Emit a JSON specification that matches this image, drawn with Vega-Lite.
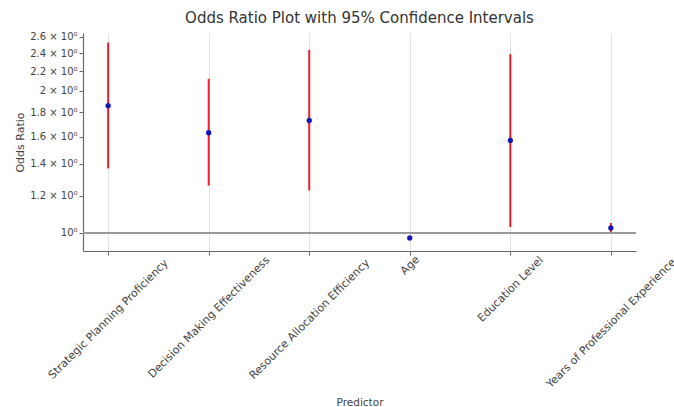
{
  "$schema": "https://vega.github.io/schema/vega-lite/v6.json",
  "width": 553,
  "height": 218,
  "autosize": "none",
  "padding": {"left": 83, "top": 33, "right": 38, "bottom": 156},
  "background": "white",
  "title": {
    "text": "Odds Ratio Plot with 95% Confidence Intervals",
    "fontSize": 15,
    "font": "DejaVu Sans",
    "fontWeight": "normal",
    "color": "#333",
    "anchor": "middle",
    "offset": 6
  },
  "config": {
    "view": {"stroke": null},
    "axis": {
      "labelFont": "DejaVu Sans",
      "titleFont": "DejaVu Sans",
      "labelColor": "#444",
      "titleColor": "#444",
      "titleFontWeight": "normal",
      "domainColor": "#666",
      "tickColor": "#666",
      "domainWidth": 1.2
    }
  },
  "data": {
    "values": [
      {"Predictor": "Strategic Planning Proficiency", "OR": 1.86, "lower": 1.37, "upper": 2.53},
      {"Predictor": "Decision Making Effectiveness", "OR": 1.63, "lower": 1.26, "upper": 2.12},
      {"Predictor": "Resource Allocation Efficiency", "OR": 1.73, "lower": 1.23, "upper": 2.44},
      {"Predictor": "Age", "OR": 0.976, "lower": 0.971, "upper": 0.982},
      {"Predictor": "Education Level", "OR": 1.57, "lower": 1.03, "upper": 2.39},
      {"Predictor": "Years of Professional Experience", "OR": 1.025, "lower": 1.005, "upper": 1.05}
    ]
  },
  "encoding": {
    "x": {
      "field": "Predictor",
      "type": "nominal",
      "sort": null,
      "scale": {"type": "point", "padding": 0.25},
      "axis": {
        "title": "Predictor",
        "titleFontSize": 10.5,
        "titleY": 154,
        "titleBaseline": "alphabetic",
        "labelAngle": -45,
        "labelAlign": "center",
        "labelBaseline": "middle",
        "labelFontSize": 11,
        "labelPadding": {"expr": "length(datum.label) * 2.0 + 4"},
        "labelLimit": 0,
        "tickSize": 4,
        "grid": true,
        "gridColor": "#e2e2e2",
        "gridWidth": 1
      }
    }
  },
  "layer": [
    {
      "mark": {"type": "rule", "color": "#999", "strokeWidth": 1},
      "encoding": {"y": {"datum": 1, "type": "quantitative"}, "x": null}
    },
    {
      "mark": {"type": "rule", "color": "#ee1c2c", "strokeWidth": 2},
      "encoding": {
        "y": {
          "field": "lower",
          "type": "quantitative",
          "scale": {"type": "log", "domain": [0.916, 2.65], "nice": false, "zero": false},
          "axis": {
            "title": "Odds Ratio",
            "titleFontSize": 11,
            "values": [1, 1.2, 1.4, 1.6, 1.8, 2, 2.2, 2.4, 2.6],
            "labelExpr": "datum.value == 1 ? '10⁰' : format(datum.value, '.2~g') + ' × 10⁰'",
            "labelFontSize": 10,
            "tickSize": 4,
            "grid": false
          }
        },
        "y2": {"field": "upper"}
      }
    },
    {
      "mark": {"type": "point", "filled": true, "color": "#1616b8", "size": 28, "opacity": 1},
      "encoding": {"y": {"field": "OR", "type": "quantitative"}}
    }
  ]
}
